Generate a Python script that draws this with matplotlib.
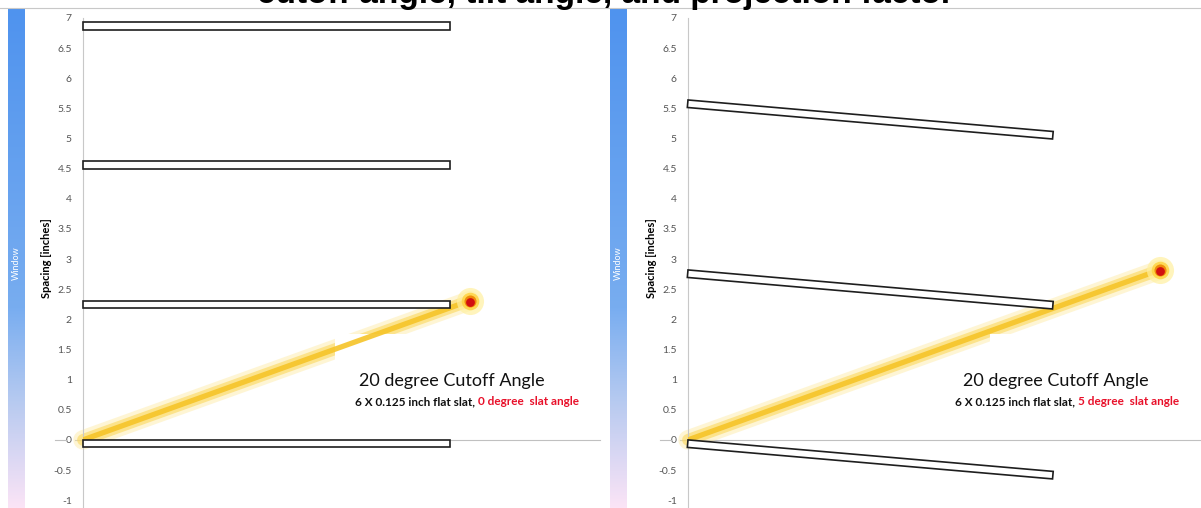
import matplotlib.pyplot as plt
import numpy as np
from matplotlib.patches import Polygon, Rectangle
from matplotlib.colors import LinearSegmentedColormap

# ---- data ----
title = 'cutoff angle, tilt angle, and projection factor'
slat_length = 6.0          # inches
slat_thickness = 0.125     # inches
left_slat_tops = [0.0, 2.31, 4.62, 6.93]
right_slat_tops = [0.0, 2.82, 5.64]
slat_angles = [0, 5]       # degrees
cutoff_angle = 20
left_dot = (6.33, 2.31)
right_dot = (7.72, 2.82)
ytick_values = [-1, -0.5, 0, 0.5, 1, 1.5, 2, 2.5, 3, 3.5, 4, 4.5, 5, 5.5, 6, 6.5, 7]
ytick_labels = ['-1', '-0.5', '0', '0.5', '1', '1.5', '2', '2.5', '3', '3.5',
                '4', '4.5', '5', '5.5', '6', '6.5', '7']

plt.rcParams['font.family'] = ['Lato', 'DejaVu Sans']

W, H = 1201, 508
PX_PER_INCH_X = 61.1
fig = plt.figure(figsize=(W / 100, H / 100), dpi=100)

window_cmap = LinearSegmentedColormap.from_list(
    'window', [(0.0, '#4f93ee'), (0.6, '#78adf0'), (0.78, '#b4c9f0'), (1.0, '#fbe4f6')])


def add_window_strip(x0_px):
    sax = fig.add_axes([x0_px / W, 0, 17 / W, (H - 8) / H])
    grad = np.linspace(0, 1, 256).reshape(-1, 1)
    sax.imshow(grad, aspect='auto', cmap=window_cmap, extent=[0, 1, 0, 1])
    sax.set_axis_off()
    sax.text(0.5, 0.49, 'Window', rotation=90, color='white', fontsize=6.5,
             ha='center', va='center', transform=sax.transAxes)


def draw_panel(left_px, right_px, slat_tops, angle, dot, red_text, text_x, line_x, box_x):
    ax = fig.add_axes([left_px / W, 0, (right_px - left_px) / W, (H - 18) / H])
    ymin, ymax = -1.13, 7.0
    xmax = (right_px - left_px) / PX_PER_INCH_X
    ax.set_xlim(0, xmax)
    ax.set_ylim(ymin, ymax)

    for side in ['top', 'right', 'bottom']:
        ax.spines[side].set_visible(False)
    ax.spines['left'].set_color('#c8c8c8')
    ax.spines['left'].set_linewidth(0.8)
    ax.set_xticks([])
    ax.set_yticks(ytick_values)
    ax.set_yticklabels(ytick_labels)
    ax.tick_params(axis='y', length=0, pad=8, labelsize=7.5, labelcolor='#555555')
    ax.set_ylabel('Spacing [inches]', fontsize=8, fontweight='bold')
    ax.yaxis.set_label_coords(-0.06, 0.51)

    # horizontal axis line through zero
    ax.plot([-0.46, -0.28], [0, 0], color='#c0c0c0', lw=0.8, clip_on=False)
    ax.plot([-0.13, xmax], [0, 0], color='#c0c0c0', lw=0.8, clip_on=False)

    # slats
    a = np.radians(angle)
    u = np.array([np.cos(a), -np.sin(a)])
    n = np.array([-np.sin(a), -np.cos(a)])
    for y0 in slat_tops:
        p0 = np.array([0.0, y0])
        p1 = p0 + slat_length * u
        p2 = p1 + slat_thickness * n
        p3 = p0 + slat_thickness * n
        ax.add_patch(Polygon([p0, p1, p2, p3], closed=True, facecolor='white',
                             edgecolor='#1e1e1e', lw=1.2, zorder=5, clip_on=False))

    # light ray at cutoff angle
    rx, ry = [0, dot[0]], [0, dot[1]]
    ax.plot(rx, ry, color='#fde9a0', lw=14, alpha=0.45, solid_capstyle='round',
            zorder=2, clip_on=False)
    ax.plot(rx, ry, color='#fbd75b', lw=8.5, alpha=0.6, solid_capstyle='round',
            zorder=2, clip_on=False)

    # white text box cutting the glow
    ax.add_patch(Rectangle((box_x, 0.41), xmax - box_x, 1.35, facecolor='white',
                           edgecolor='none', zorder=3))
    ax.plot(rx, ry, color='#f6c428', lw=3.8, alpha=0.9, solid_capstyle='round', zorder=4)

    # sun dot
    ax.scatter([dot[0]], [dot[1]], s=380, color='#fff0a0', alpha=0.7, zorder=6,
               linewidths=0, clip_on=False)
    ax.scatter([dot[0]], [dot[1]], s=160, color='#ffd23c', alpha=0.8, zorder=6,
               linewidths=0, clip_on=False)
    ax.scatter([dot[0]], [dot[1]], s=75, color='#f08a0a', zorder=7, linewidths=0,
               clip_on=False)
    ax.scatter([dot[0]], [dot[1] - 0.02], s=40, color='#d21010', zorder=8, linewidths=0,
               clip_on=False)

    # annotations
    ax.text(text_x, 0.98, '%d degree Cutoff Angle' % cutoff_angle, fontsize=13,
            ha='center', va='center', color='#111111', zorder=9)
    black = ax.text(line_x, 0.63, '6 X 0.125 inch flat slat, ', fontsize=8.5,
                    fontweight='bold', ha='left', va='center', color='#111111', zorder=9)
    ax.annotate(red_text, xy=(1, 0.5), xycoords=black, xytext=(0, 0),
                textcoords='offset points', fontsize=8.5, fontweight='bold',
                ha='left', va='center', color='#e8102a', zorder=9)
    return ax


add_window_strip(8)
add_window_strip(610)
draw_panel(83, 600, left_slat_tops, slat_angles[0], left_dot, '0 degree  slat angle',
           6.04, 4.45, 4.12)
draw_panel(688, 1201, right_slat_tops, slat_angles[1], right_dot, '5 degree  slat angle',
           6.02, 4.37, 4.94)

# panel top border and title (cut off at the top edge, as in the source screenshot)
fig.add_artist(plt.Line2D([0, 1], [1 - 8 / H, 1 - 8 / H], color='#c8c8c8', lw=0.8))
fig.text(605 / W, 1 - 3 / H, title, fontsize=24, fontweight='bold',
         family='Liberation Sans', ha='center', va='baseline')

fig.savefig('out.png', dpi=100)
